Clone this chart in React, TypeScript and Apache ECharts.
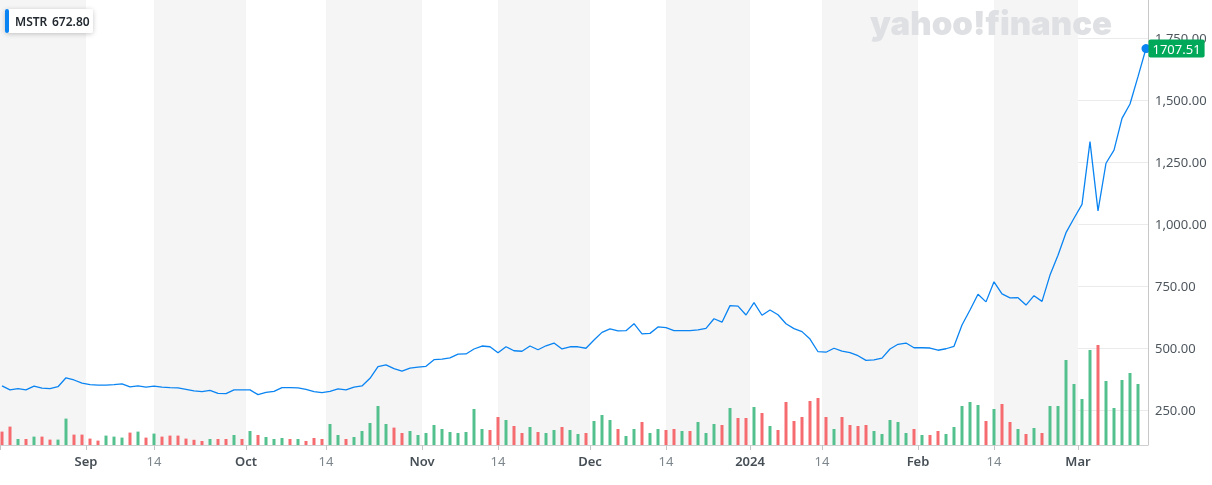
import React, { useEffect, useRef } from "react";
import * as echarts from "echarts";

// Daily closes (index 0 = Aug 17 2023 ... index 143 = Mar 13 2024)
const closePrices: number[] = [
  347, 331, 336, 331, 346, 338, 336, 344, 380, 371,
  358, 352, 350, 350, 352, 355, 343, 347, 342, 346,
  342, 340, 339, 333, 327, 324, 329, 317, 316, 331,
  331, 331, 312, 321, 325, 340, 340, 339, 333, 324,
  320, 325, 335, 331, 342, 347, 378, 425, 432, 417,
  407, 419, 423, 426, 453, 455, 460, 475, 476, 496,
  508, 505, 481, 505, 489, 487, 508, 493, 509, 520,
  496, 505, 505, 499, 532, 563, 577, 569, 570, 598,
  557, 559, 585, 582, 570, 570, 570, 573, 579, 618,
  604, 671, 669, 633, 683, 632, 653, 634, 598, 578,
  566, 536, 485, 483, 499, 487, 481, 469, 450, 452,
  459, 496, 515, 520, 501, 501, 500, 491, 497, 507,
  593, 653, 717, 686, 767, 718, 702, 703, 673, 711,
  688, 794, 874, 965, 1023, 1079, 1332, 1053, 1245, 1298,
  1426, 1484, 1594, 1707.51,
];

// Daily volume, thousands of shares (last session has no bar yet)
const volumes: (number | null)[] = [
  670, 920, 300, 300, 420, 420, 270, 270, 1320, 520,
  520, 320, 220, 470, 420, 370, 620, 670, 370, 570,
  420, 470, 470, 320, 260, 200, 300, 300, 300, 500,
  300, 700, 500, 400, 300, 350, 300, 300, 200, 350,
  300, 1050, 500, 300, 400, 700, 1100, 1950, 1050, 870,
  600, 700, 500, 600, 1000, 800, 650, 600, 650, 1800,
  800, 750, 1400, 1250, 950, 600, 900, 650, 600, 750,
  900, 750, 550, 600, 1200, 1500, 1250, 800, 450, 800,
  1150, 600, 800, 750, 800, 700, 700, 1150, 600, 1050,
  1000, 1850, 1350, 1350, 1900, 1600, 950, 750, 2150, 1200,
  1400, 2200, 2350, 1400, 800, 1400, 1000, 950, 1000, 700,
  550, 1250, 1150, 600, 800, 500, 500, 700, 550, 900,
  1950, 2150, 2000, 1200, 1800, 2050, 1150, 800, 550, 850,
  600, 1950, 1950, 4250, 3050, 2300, 4750, 5000, 3200, 1850,
  3250, 3600, 3050, null,
];

// u = up day (green volume), d = down day (red volume)
const volumeDirection: string[] = (
  "ddududduud" + "ddduuududu" + "dddddduddu" + "duduuududd" + "duuduuuuud" +
  "duuuuuuuuu" + "uddudduduu" + "duuduuuduu" + "duudduduuu" + "duddududdd" +
  "dddduddddu" + "uuuududduu" + "uuududdudu" + "duuuuuuduu" + "uuuu"
).split("");

// Axis ticks, in trading-day index units
const tickPositions: number[] = [10.5, 19, 30.5, 40.5, 52.5, 62, 73.5, 83, 93.5, 102.5, 114.5, 124, 134.5];
const tickLabels: string[] = ["Sep", "14", "Oct", "14", "Nov", "14", "Dec", "14", "2024", "14", "Feb", "14", "Mar"];
const priceTicks: number[] = [250, 500, 750, 1000, 1250, 1500, 1750];

const tickerSymbol = "MSTR";
const tickerHeaderValue = "672.80";

const FONT = "'Noto Sans', 'Open Sans', Arial, sans-serif";
const GREEN = "#52c18d";
const RED = "#f56b6f";
const BLUE = "#0a84f2";

export default function App() {
  const ref = useRef<HTMLDivElement>(null);

  useEffect(() => {
    if (!ref.current) return;
    const chart = echarts.init(ref.current, null, { renderer: "svg" });
    const n = closePrices.length;
    const xMin = -0.25;
    const xMax = n - 1 + 0.25;
    const lineData = closePrices.map((v, i) => [i, v]);
    const barData = volumes
      .map((v, i) =>
        v == null
          ? null
          : { value: [i, v], itemStyle: { color: volumeDirection[i] === "u" ? GREEN : RED } }
      )
      .filter((d) => d !== null);
    const lastPrice = closePrices[n - 1];
    const monthSet = new Set(["Sep", "Oct", "Nov", "Dec", "2024", "Jan", "Feb", "Mar"]);

    chart.setOption({
      animation: false,
      textStyle: { fontFamily: FONT },
      grid: { left: 0, right: 64, top: 0, bottom: 40, containLabel: false, outerBoundsMode: "none" },
      xAxis: {
        type: "value",
        min: xMin,
        max: xMax,
        axisLine: { show: true, onZero: false, lineStyle: { color: "#d0d0d0", width: 1 } },
        axisTick: {
          show: true,
          customValues: [xMin, ...tickPositions],
          length: 5,
          lineStyle: { color: "#c4c4c4" },
        },
        axisLabel: {
          show: true,
          customValues: tickPositions,
          margin: 9,
          formatter: (v: number) => {
            let k = tickPositions.indexOf(v);
            if (k < 0) {
              k = tickPositions.findIndex((t) => Math.abs(t - v) < 1e-6);
            }
            if (k < 0) return "";
            const t = tickLabels[k];
            return monthSet.has(t) ? `{m|${t}}` : `{d|${t}}`;
          },
          rich: {
            m: { fontFamily: FONT, fontSize: 13, fontWeight: 600, color: "#464e56" },
            d: { fontFamily: FONT, fontSize: 13, fontWeight: 400, color: "#7d868c" },
          },
        },
        splitLine: { show: false },
        splitArea: { show: true, areaStyle: { color: ["#f5f5f5", "#ffffff"] } },
      },
      yAxis: [
        {
          type: "value",
          position: "right",
          min: 108.9,
          max: 1903.2,
          axisLine: { show: true, onZero: false, lineStyle: { color: "#c8c8c8" } },
          axisTick: { show: false, customValues: priceTicks },
          axisLabel: {
            show: true,
            customValues: priceTicks,
            margin: 7,
            fontSize: 13,
            color: "#4e565e",
            fontFamily: FONT,
            formatter: (v: number) =>
              v.toLocaleString("en-US", { minimumFractionDigits: 2, maximumFractionDigits: 2 }),
          },
          splitLine: { show: true, lineStyle: { color: "#ebebeb", width: 1 } },
        },
        {
          type: "value",
          position: "right",
          min: 0,
          max: 22250,
          show: false,
          axisLine: { show: false, onZero: false },
          axisTick: { show: false },
          axisLabel: { show: false },
          splitLine: { show: false },
          splitArea: { show: false },
        },
      ],
      series: [
        {
          type: "bar",
          xAxisIndex: 0,
          yAxisIndex: 1,
          barWidth: 3,
          data: barData,
          z: 2,
        },
        {
          type: "line",
          xAxisIndex: 0,
          yAxisIndex: 0,
          data: lineData,
          showSymbol: false,
          symbol: "none",
          lineStyle: { color: BLUE, width: 1.3 },
          z: 3,
          markPoint: {
            symbol: "circle",
            symbolSize: 9,
            itemStyle: { color: BLUE },
            data: [{ coord: [n - 1, lastPrice], value: lastPrice }],
            label: {
              show: true,
              position: "right",
              distance: -2,
              formatter: () => lastPrice.toFixed(2),
              color: "#ffffff",
              backgroundColor: "#00a85a",
              borderRadius: 2,
              padding: [3, 4, 2, 4],
              fontSize: 13,
              fontFamily: FONT,
            },
          },
        },
      ],
      graphic: [
        {
          type: "text",
          left: 870,
          top: 6,
          z: 1,
          silent: true,
          style: {
            text: "yahoo!finance",
            fontFamily: "Inter, 'Noto Sans', sans-serif",
            fontSize: 33,
            fontWeight: 900,
            fill: "#dfe0e3",
          },
        },
        {
          type: "rect",
          z: 20,
          silent: true,
          shape: { x: 5, y: 9, width: 88, height: 24, r: 3 },
          style: { fill: "#ffffff", shadowBlur: 5, shadowColor: "rgba(0,0,0,0.22)", shadowOffsetY: 1 },
        },
        {
          type: "rect",
          z: 21,
          silent: true,
          shape: { x: 5, y: 9, width: 4, height: 24, r: 2 },
          style: { fill: BLUE },
        },
        {
          type: "text",
          z: 22,
          silent: true,
          x: 15,
          y: 21,
          style: {
            text: tickerSymbol,
            fontFamily: FONT,
            fontSize: 12,
            fontWeight: 600,
            fill: "#232a31",
            verticalAlign: "middle",
            align: "left",
          },
        },
        {
          type: "text",
          z: 22,
          silent: true,
          x: 52,
          y: 21,
          style: {
            text: tickerHeaderValue,
            fontFamily: FONT,
            fontSize: 12,
            fontWeight: 600,
            fill: "#232a31",
            verticalAlign: "middle",
            align: "left",
          },
        },
      ],
    });

    return () => chart.dispose();
  }, []);

  return (
    <div
      ref={ref}
      style={{ position: "fixed", left: 0, top: 0, width: 1212, height: 485 }}
    />
  );
}
